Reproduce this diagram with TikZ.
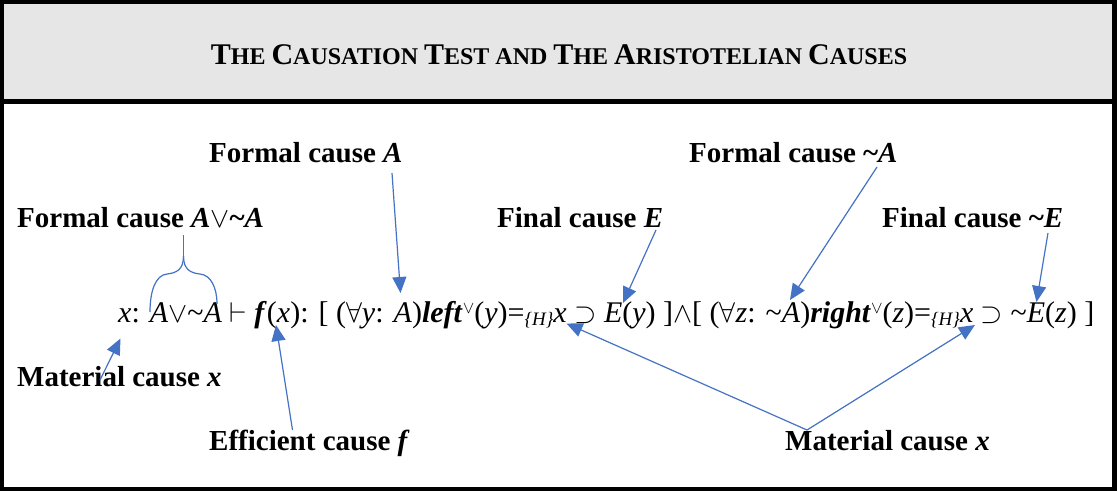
\documentclass[tikz,border=0pt]{standalone}
\usepackage{fontspec}
\usepackage{graphicx}
\setmainfont{Liberation Serif}
\usetikzlibrary{arrows.meta}
\definecolor{arrowblue}{HTML}{4472C4}
\definecolor{headgray}{HTML}{E6E6E6}
\newcommand{\bi}[1]{\textbf{\textit{#1}}}
\newcommand{\sy}[1]{\scalebox{1.15}{$#1$}}
\newcommand{\sub}[1]{\raisebox{-3pt}{\fontsize{19}{19}\selectfont\textit{#1}}}
\newcommand{\vsup}{\raisebox{9pt}{\fontsize{16}{16}\selectfont$\vee$}}
\newcommand{\scbig}[1]{{\fontsize{30}{34}\selectfont #1}}
\begin{document}
\begin{tikzpicture}[x=1pt,y=-1pt,
  lab/.style={inner sep=0pt, anchor=base west, font=\fontsize{29}{34}\selectfont\bfseries},
  conn/.style={draw=arrowblue, line width=1.2pt, -{Triangle[length=16pt,width=14pt]}, color=arrowblue},
  brace/.style={draw=arrowblue, line width=1.2pt}]
\useasboundingbox (0,0) rectangle (1117,491);
\fill[black] (0,0) rectangle (1117,491);
\fill[headgray] (4,3.5) rectangle (1112,99);
\fill[white] (4,104) rectangle (1112,487);
\node[inner sep=0pt, anchor=base, font=\fontsize{24}{28}\selectfont\bfseries] (title) at (559,64)
  {\scbig{T}HE \scbig{C}AUSATION \scbig{T}EST AND \scbig{T}HE \scbig{A}RISTOTELIAN \scbig{C}AUSES};
\node[inner sep=0pt, anchor=base west, font=\fontsize{30}{34}\selectfont] (formula) at (118,322)
  {\textit{x}: \textit{A}\sy{\vee}\textasciitilde\textit{A} \sy{\vdash} \bi{f}(\textit{x}): [ (\sy{\forall}\textit{y}: \textit{A})\bi{left}\vsup(\textit{y})=\sub{\{H\}}\textit{x} \sy{\supset} \textit{E}(\textit{y}) ]\sy{\wedge}[ (\sy{\forall}\textit{z}: \textasciitilde\textit{A})\bi{right}\vsup(\textit{z})=\sub{\{H\}}\textit{x} \sy{\supset} \textasciitilde\textit{E}(\textit{z}) ]};
\node[lab] (la) at (209,162) {Formal cause \textit{A}};
\node[lab] (lb) at (17,227) {Formal cause \textit{A}\sy{\vee}\textasciitilde\textit{A}};
\node[lab] (lc) at (497,227) {Final cause \textit{E}};
\node[lab] (ld) at (689,162) {Formal cause \textasciitilde\textit{A}};
\node[lab] (le) at (882,227) {Final cause \textasciitilde\textit{E}};
\node[lab] (lf) at (17,386) {Material cause \textit{x}};
\node[lab] (lg) at (209,450) {Efficient cause \textit{f}};
\node[lab] (lh) at (785,450) {Material cause \textit{x}};
% connector ends
\coordinate (sa) at (392,173);
\coordinate (ta) at (400.5,293);
\coordinate (sc) at (656,230);
\coordinate (tc) at (623,303);
\coordinate (sd) at (877,167);
\coordinate (td) at (790,300);
\coordinate (se) at (1048,233);
\coordinate (te) at (1036.5,302);
\coordinate (sf) at (100,380);
\coordinate (tf) at (120.5,338.5);
\coordinate (sg) at (292.5,430);
\coordinate (tg) at (276,325);
\coordinate (sh) at (807,430);
\coordinate (th1) at (566.5,323.5);
\coordinate (th2) at (975,325);
\draw[conn] (sa) -- (ta);
\draw[conn] (sc) -- (tc);
\draw[conn] (sd) -- (td);
\draw[conn] (se) -- (te);
\draw[conn] (sf) -- (tf);
\draw[conn] (sg) -- (tg);
\draw[conn] (sh) -- (th1);
\draw[conn] (sh) -- (th2);
% brace
\coordinate (bt) at (183.5,235);
\coordinate (bm) at (183.5,256);
\coordinate (bl) at (150,312);
\coordinate (br) at (217,304);
\draw[brace] (bt) -- (bm);
\draw[brace] (bm) .. controls (183.5,270) and (176,273) .. (167,274) .. controls (156,275) and (150,290) .. (bl);
\draw[brace] (bm) .. controls (183.5,270) and (191,273) .. (200,274) .. controls (211,275) and (217,288) .. (br);
\end{tikzpicture}
\end{document}
